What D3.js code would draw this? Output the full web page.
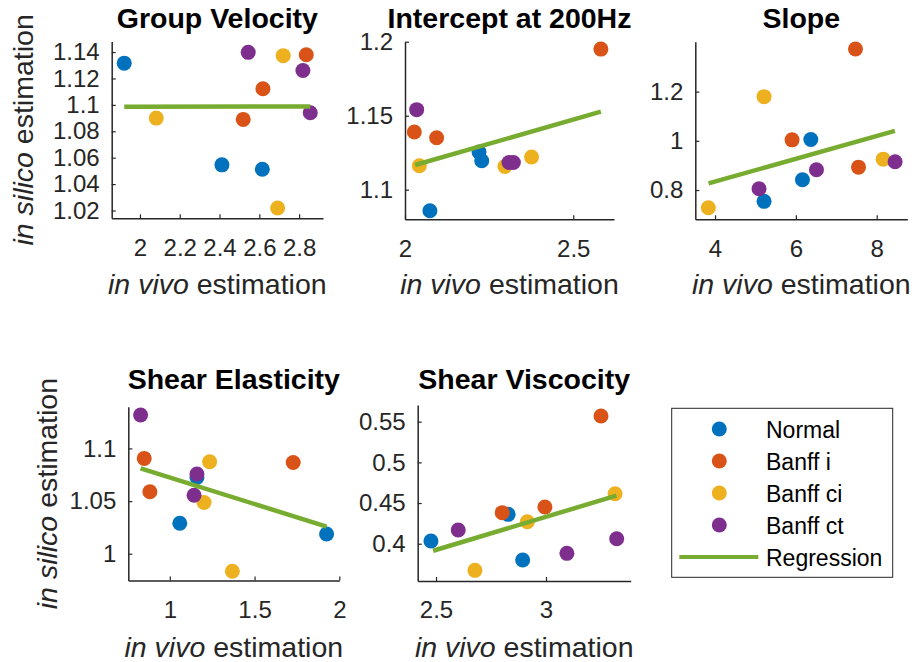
<!DOCTYPE html>
<html>
<head>
<meta charset="utf-8">
<script src="https://cdn.jsdelivr.net/npm/d3@7"></script>
<style>
body { margin: 0; background: #fff; }
svg { font-family: "Liberation Sans", Arial, sans-serif; }
</style>
</head>
<body>
<script>
var groups = ["Normal", "Banff i", "Banff ci", "Banff ct"];
var colors = ["#0072BD", "#D95319", "#EDB120", "#7E2F8E"];
var titles = ["Group Velocity", "Intercept at 200Hz", "Slope", "Shear Elasticity", "Shear Viscocity"];

// one row per group: Normal, Banff i, Banff ci, Banff ct
var gvX = [[1.921, 2.412, 2.615], [2.519, 2.618, 2.836], [2.082, 2.692, 2.72], [2.544, 2.819, 2.856]];
var gvY = [[1.1316, 1.0546, 1.0513], [1.089, 1.1122, 1.138], [1.090, 1.0219, 1.1373], [1.1398, 1.126, 1.094]];
var icX = [[2.074, 2.22, 2.228], [2.0277, 2.094, 2.582], [2.0426, 2.297, 2.376], [2.0347, 2.309, 2.322]];
var icY = [[1.0858, 1.1255, 1.1196], [1.139, 1.1351, 1.195], [1.1162, 1.1157, 1.1221], [1.1541, 1.1184, 1.1184]];
var slX = [[5.213, 6.163, 6.37], [5.906, 7.475, 7.55], [3.834, 5.213, 8.16], [5.089, 6.51, 8.455]];
var slY = [[0.754, 0.842, 1.0053], [1.004, 1.3736, 0.893], [0.728, 1.1797, 0.9256], [0.8053, 0.8825, 0.915]];
var elX = [[1.0588, 1.16, 1.925], [0.849, 0.8824, 1.728], [1.202, 1.235, 1.369], [0.8276, 1.143, 1.16]];
var elY = [[1.029, 1.0725, 1.0187], [1.0905, 1.0589, 1.0866], [1.0487, 1.0874, 0.9834], [1.1317, 1.0555, 1.0757]];
var viX = [[2.477, 2.828, 2.894], [2.801, 2.995, 3.25], [2.677, 2.915, 3.314], [2.601, 3.095, 3.3214]];
var viY = [[0.4033, 0.4361, 0.38], [0.4382, 0.4451, 0.557], [0.3673, 0.4271, 0.4615], [0.4168, 0.3882, 0.4061]];

// regression end points
var regX = [[1.921, 2.856], [2.03, 2.582], [3.84, 8.45], [0.8276, 1.925], [2.487, 3.32]];
var regY = [[1.0985, 1.0988], [1.1167, 1.1527], [0.827, 1.0407], [1.081, 1.0258], [0.3914, 0.4591]];

// axis limits and ticks
var xLims = [[1.858, 2.92], [2.0, 2.621], [3.512, 8.757], [0.755, 2.0], [2.4168, 3.385]];
var yLims = [[1.0141, 1.148], [1.080, 1.2], [0.681, 1.403], [0.9746, 1.1396], [0.3542, 0.5705]];
var xTicks = [[2, 2.2, 2.4, 2.6, 2.8], [2, 2.5], [4, 6, 8], [1, 1.5, 2], [2.5, 3]];
var yTicks = [[1.02, 1.04, 1.06, 1.08, 1.1, 1.12, 1.14], [1.1, 1.15, 1.2], [0.8, 1, 1.2], [1, 1.05, 1.1], [0.4, 0.45, 0.5, 0.55]];

var xs = [gvX, icX, slX, elX, viX];
var ys = [gvY, icY, slY, elY, viY];

var boxes = [
    {l: 111.7, t: 41.5, r: 323, b: 218.3},
    {l: 405, t: 41.7, r: 614, b: 219.3},
    {l: 695.3, t: 41.7, r: 907.3, b: 219.3},
    {l: 128.3, t: 406.7, r: 339.3, b: 580.5},
    {l: 417.7, t: 405, r: 630.7, b: 581}
];
var titleBase = [28.3, 28.3, 28.3, 389.3, 389.3];
var xLabelBase = [293.5, 293.5, 293.5, 656.5, 656.5];

var axisColor = "#262626";
var width = 915, height = 662;

var svg = d3.select("body").append("svg")
    .attr("width", width)
    .attr("height", height);

function axisStyle(g) {
    g.select(".domain").attr("stroke", axisColor).attr("stroke-width", 1.5);
    g.selectAll(".tick line").attr("stroke", axisColor).attr("stroke-width", 1.2);
    g.selectAll(".tick text").attr("fill", axisColor).attr("font-size", 24)
        .attr("font-family", "'Liberation Sans', Arial, sans-serif");
}

boxes.forEach(function (bx, i) {
    var x = d3.scaleLinear().domain(xLims[i]).range([bx.l, bx.r]);
    var y = d3.scaleLinear().domain(yLims[i]).range([bx.b, bx.t]);

    var gx = svg.append("g")
        .attr("transform", "translate(0," + bx.b + ")")
        .call(d3.axisBottom(x).tickValues(xTicks[i]).tickFormat(String)
            .tickSizeInner(-4).tickSizeOuter(0).tickPadding(22));
    axisStyle(gx);
    gx.selectAll(".tick text").attr("dy", 0).attr("y", i < 3 ? 38 : 37);

    var gy = svg.append("g")
        .attr("transform", "translate(" + bx.l + ",0)")
        .call(d3.axisLeft(y).tickValues(yTicks[i]).tickFormat(String)
            .tickSizeInner(-4).tickSizeOuter(0).tickPadding(13));
    axisStyle(gy);
    gy.selectAll(".tick text").attr("x", -12);

    // scatter points, group by group
    groups.forEach(function (name, k) {
        var pts = xs[i][k].map(function (v, j) { return [v, ys[i][k][j]]; });
        svg.append("g").selectAll("circle")
            .data(pts)
            .enter().append("circle")
            .attr("cx", function (d) { return x(d[0]); })
            .attr("cy", function (d) { return y(d[1]); })
            .attr("r", 7.5)
            .attr("fill", colors[k]);
    });

    var reg = regX[i].map(function (v, j) { return [v, regY[i][j]]; });
    svg.append("path")
        .datum(reg)
        .attr("fill", "none")
        .attr("stroke", "#77AC30")
        .attr("stroke-width", 4.5)
        .attr("d", d3.line().x(function (d) { return x(d[0]); }).y(function (d) { return y(d[1]); }));

    svg.append("text")
        .attr("x", (bx.l + bx.r) / 2)
        .attr("y", titleBase[i])
        .attr("text-anchor", "middle")
        .attr("font-size", 28.5)
        .attr("font-weight", "bold")
        .attr("fill", "#000")
        .text(titles[i]);

    var xl = svg.append("text")
        .attr("x", (bx.l + bx.r) / 2)
        .attr("y", xLabelBase[i])
        .attr("text-anchor", "middle")
        .attr("font-size", 28.5)
        .attr("fill", axisColor);
    xl.append("tspan").attr("font-style", "italic").text("in vivo");
    xl.append("tspan").text(" estimation");
});

// y labels on the left column
[[33, (boxes[0].t + boxes[0].b) / 2], [56.7, (boxes[3].t + boxes[3].b) / 2]].forEach(function (p) {
    var yl = svg.append("text")
        .attr("transform", "translate(" + p[0] + "," + p[1] + ") rotate(-90)")
        .attr("text-anchor", "middle")
        .attr("font-size", 28.5)
        .attr("fill", axisColor);
    yl.append("tspan").attr("font-style", "italic").text("in silico");
    yl.append("tspan").text(" estimation");
});

// legend
var legend = svg.append("g");
legend.append("rect")
    .attr("x", 671.7).attr("y", 408.3)
    .attr("width", 221).attr("height", 169)
    .attr("fill", "#fff")
    .attr("stroke", axisColor)
    .attr("stroke-width", 1);

var rowY = d3.scalePoint().domain(d3.range(5)).range([429, 557]);
groups.forEach(function (name, k) {
    legend.append("circle")
        .attr("cx", 719.3).attr("cy", rowY(k))
        .attr("r", 7.5).attr("fill", colors[k]);
    legend.append("text")
        .attr("x", 766).attr("y", rowY(k) + 8.5)
        .attr("font-size", 23).attr("fill", "#000")
        .text(name);
});
legend.append("line")
    .attr("x1", 679.3).attr("x2", 758.3)
    .attr("y1", rowY(4)).attr("y2", rowY(4))
    .attr("stroke", "#77AC30").attr("stroke-width", 4);
legend.append("text")
    .attr("x", 766).attr("y", rowY(4) + 8.5)
    .attr("font-size", 23).attr("fill", "#000")
    .text("Regression");
</script>
</body>
</html>
